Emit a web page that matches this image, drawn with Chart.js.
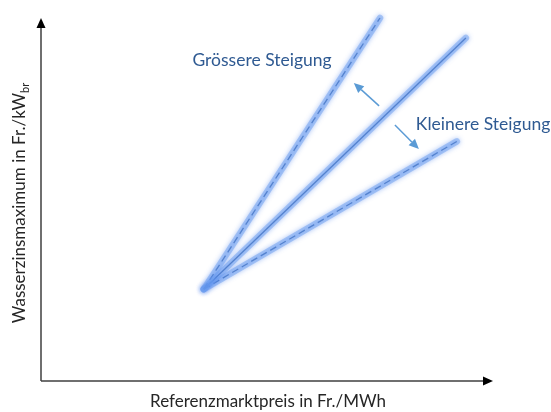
<!DOCTYPE html>
<html>
<head>
<meta charset="utf-8">
<script src="https://cdn.jsdelivr.net/npm/chart.js@4/dist/chart.umd.min.js"></script>
<style>
html,body{margin:0;padding:0;background:#fff;}
#wrap{width:551px;height:412px;}
</style>
</head>
<body>
<div id="wrap"><canvas id="c" width="551" height="412"></canvas></div>
<script>
// Axis titles
const xTitle = 'Referenzmarktpreis in Fr./MWh';
const yTitle = 'Wasserzinsmaximum in Fr./kW';
const yTitleSub = 'br';
// Lines (conceptual units 0..10)
const lineNames = ['Grössere Steigung', 'Referenz', 'Kleinere Steigung'];
const lineStartX = [3.6, 3.6, 3.6];
const lineStartY = [2.53, 2.53, 2.53];
const lineEndX = [7.5, 9.4, 9.2];
const lineEndY = [10.0, 9.45, 6.6];
const lineDashed = [true, false, true];
// Arrows (from -> to)
const arrowFromX = [7.48, 7.83];
const arrowFromY = [7.58, 7.05];
const arrowToX = [6.92, 8.36];
const arrowToY = [8.21, 6.39];
// Text labels
const labelTexts = ['Grössere Steigung', 'Kleinere Steigung'];
const labelX = [4.89, 9.78];
const labelY = [8.82, 7.08];

const FONT = 'Lato, "Open Sans", sans-serif';

const datasets = [];
lineNames.forEach((n, i) => {
  const pts = [{x: lineStartX[i], y: lineStartY[i]}, {x: lineEndX[i], y: lineEndY[i]}];
  datasets.push({
    label: n + ' glow', data: pts, showLine: true, glow: true, clip: false,
    borderColor: 'rgba(110,160,240,0.5)', borderWidth: 6.5,
    borderCapStyle: 'round', pointRadius: 0, fill: false
  });
});
lineNames.forEach((n, i) => {
  const pts = [{x: lineStartX[i], y: lineStartY[i]}, {x: lineEndX[i], y: lineEndY[i]}];
  datasets.push({
    label: n, data: pts, showLine: true, clip: false,
    borderColor: '#3b5c8e', borderWidth: 1.3,
    borderDash: lineDashed[i] ? [7, 4] : [],
    pointRadius: 0, fill: false
  });
});

const glowPlugin = {
  id: 'glow',
  beforeDatasetDraw(chart, args) {
    const ds = chart.data.datasets[args.index];
    if (ds.glow) {
      const ctx = chart.ctx;
      ctx.save();
      ctx.shadowColor = 'rgba(60,120,235,0.85)';
      ctx.shadowBlur = 5;
    }
  },
  afterDatasetDraw(chart, args) {
    const ds = chart.data.datasets[args.index];
    if (ds.glow) chart.ctx.restore();
  }
};

const decoPlugin = {
  id: 'deco',
  beforeDatasetsDraw(chart) {
    const ctx = chart.ctx;
    const xs = chart.scales.x, ys = chart.scales.y;
    const x0 = xs.getPixelForValue(0), x1 = xs.getPixelForValue(10);
    const y0 = ys.getPixelForValue(0), y1 = ys.getPixelForValue(10);
    ctx.save();
    ctx.strokeStyle = '#404040'; ctx.fillStyle = '#000';
    ctx.lineWidth = 1.5;
    ctx.beginPath();
    ctx.moveTo(x0, y0); ctx.lineTo(x1 - 8, y0);
    ctx.moveTo(x0, y0); ctx.lineTo(x0, y1 + 8);
    ctx.stroke();
    ctx.beginPath();
    ctx.moveTo(x1, y0); ctx.lineTo(x1 - 10, y0 - 4.5); ctx.lineTo(x1 - 10, y0 + 4.5); ctx.closePath(); ctx.fill();
    ctx.beginPath();
    ctx.moveTo(x0, y1); ctx.lineTo(x0 - 4.5, y1 + 10); ctx.lineTo(x0 + 4.5, y1 + 10); ctx.closePath(); ctx.fill();
    // axis titles
    ctx.fillStyle = '#262626';
    ctx.font = '17px ' + FONT;
    ctx.textAlign = 'center'; ctx.textBaseline = 'middle';
    ctx.fillText(xTitle, 268, 402);
    ctx.save();
    ctx.translate(20, 203);
    ctx.rotate(-Math.PI / 2);
    ctx.font = '17px ' + FONT;
    const wMain = ctx.measureText(yTitle).width;
    ctx.font = '11px ' + FONT;
    const wSub = ctx.measureText(yTitleSub).width;
    const total = wMain + wSub;
    ctx.textAlign = 'left';
    ctx.font = '17px ' + FONT;
    ctx.fillText(yTitle, -total / 2, 0);
    ctx.font = '11px ' + FONT;
    ctx.fillText(yTitleSub, -total / 2 + wMain, 5);
    ctx.restore();
    ctx.restore();
  },
  afterDatasetsDraw(chart) {
    const ctx = chart.ctx;
    const xs = chart.scales.x, ys = chart.scales.y;
    ctx.save();
    ctx.strokeStyle = '#5b9bd5'; ctx.fillStyle = '#5b9bd5'; ctx.lineWidth = 1.5;
    arrowFromX.forEach((_, i) => {
      const fx = xs.getPixelForValue(arrowFromX[i]), fy = ys.getPixelForValue(arrowFromY[i]);
      const tx = xs.getPixelForValue(arrowToX[i]), ty = ys.getPixelForValue(arrowToY[i]);
      const ang = Math.atan2(ty - fy, tx - fx);
      const L = 10, W = 4.5;
      const bx = tx - L * Math.cos(ang), by = ty - L * Math.sin(ang);
      ctx.beginPath(); ctx.moveTo(fx, fy); ctx.lineTo(bx, by); ctx.stroke();
      ctx.beginPath();
      ctx.moveTo(tx, ty);
      ctx.lineTo(bx + W * Math.sin(ang), by - W * Math.cos(ang));
      ctx.lineTo(bx - W * Math.sin(ang), by + W * Math.cos(ang));
      ctx.closePath(); ctx.fill();
    });
    ctx.fillStyle = '#2f5a92';
    ctx.font = '17.5px ' + FONT;
    ctx.textAlign = 'center'; ctx.textBaseline = 'middle';
    labelTexts.forEach((t, i) => {
      ctx.fillText(t, xs.getPixelForValue(labelX[i]), ys.getPixelForValue(labelY[i]));
    });
    ctx.restore();
  }
};

new Chart(document.getElementById('c'), {
  type: 'scatter',
  data: { datasets },
  options: {
    responsive: false,
    animation: false,
    devicePixelRatio: 1,
    layout: { padding: { left: 41, right: 58, top: 18, bottom: 31 } },
    plugins: { legend: { display: false }, tooltip: { enabled: false } },
    scales: {
      x: { type: 'linear', min: 0, max: 10, display: false },
      y: { type: 'linear', min: 0, max: 10, display: false }
    }
  },
  plugins: [glowPlugin, decoPlugin]
});
</script>
</body>
</html>
